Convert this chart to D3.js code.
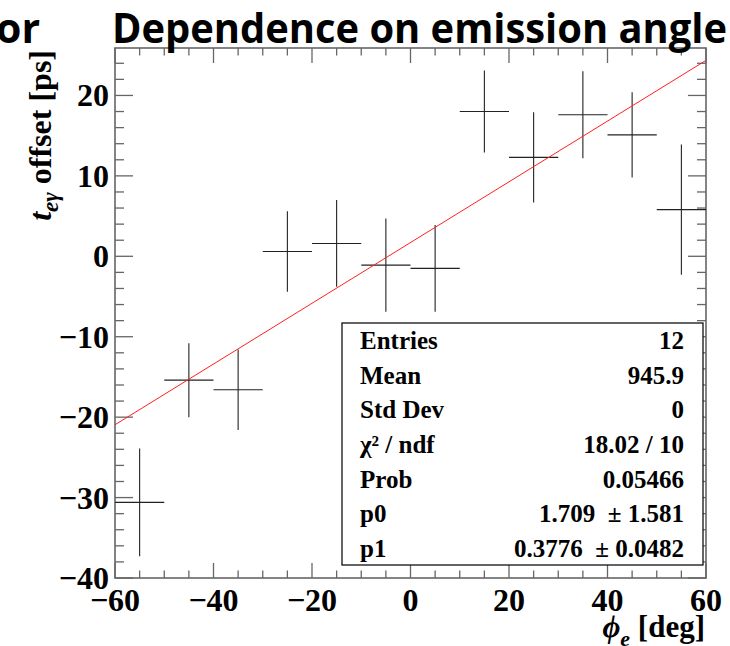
<!DOCTYPE html>
<html>
<head>
<meta charset="utf-8">
<script src="https://cdn.jsdelivr.net/npm/d3@7"></script>
<style>
  body { margin: 0; background: #fff; }
  svg text { font-family: "Liberation Serif", "Times New Roman", serif; font-weight: bold; }
</style>
</head>
<body>
<svg id="chart" width="730" height="646"></svg>
<script>
// bin centres of phi_e [deg], bin half width 5
const binCenters = [-55, -45, -35, -25, -15, -5, 5, 15, 25, 35, 45, 55];
const offsets = [-30.6, -15.4, -16.6, 0.6, 1.6, -1.1, -1.5, 18.0, 12.3, 17.6, 15.1, 5.8];
const errors = [6.7, 4.6, 5.0, 5.0, 5.4, 5.8, 5.4, 5.1, 5.6, 5.4, 5.3, 8.1];

// fit: p0 + p1 * x
const fitP0 = 1.709;
const fitP1 = 0.3776;

const xTicks = [-60, -40, -20, 0, 20, 40, 60];
const yTicks = [-40, -30, -20, -10, 0, 10, 20];

const statLabels = ["Entries", "Mean", "Std Dev", "χ² / ndf", "Prob", "p0", "p1"];
const statValues = ["12", "945.9", "0", "18.02 / 10", "0.05466", "1.709  ± 1.581", "0.3776  ± 0.0482"];

const svg = d3.select('#chart');
const pl = 115, pr = 706, pt = 48, pb = 578;

const x = d3.scaleLinear().domain([-60, 60]).range([pl, pr]);
const y = d3.scaleLinear().domain([-40, 25.9]).range([pb, pt]);

const fmt = v => v < 0 ? '\u2212' + Math.abs(v) : String(v);

// ticks, all pointing inward (ROOT style)
const tickColor = '#666';
const g = svg.append('g');

d3.range(-60, 60.01, 5).forEach(v => {
    const len = v % 20 === 0 ? 15 : 7.5;
    g.append('line').attr('x1', x(v)).attr('x2', x(v)).attr('y1', pb).attr('y2', pb - len)
        .attr('stroke', tickColor).attr('stroke-width', 1.3);
    g.append('line').attr('x1', x(v)).attr('x2', x(v)).attr('y1', pt).attr('y2', pt + len)
        .attr('stroke', tickColor).attr('stroke-width', 1.3);
});

d3.range(-40, 25.9, 2).forEach(v => {
    const len = v % 10 === 0 ? 18 : 9;
    g.append('line').attr('x1', pl).attr('x2', pl + len).attr('y1', y(v)).attr('y2', y(v))
        .attr('stroke', tickColor).attr('stroke-width', 1.3);
    g.append('line').attr('x1', pr).attr('x2', pr - len).attr('y1', y(v)).attr('y2', y(v))
        .attr('stroke', tickColor).attr('stroke-width', 1.3);
});

svg.append('rect')
    .attr('x', pl).attr('y', pt)
    .attr('width', pr - pl).attr('height', pb - pt)
    .attr('fill', 'none').attr('stroke', tickColor).attr('stroke-width', 1.6);

// tick labels
svg.selectAll('.xlab').data(xTicks).join('text')
    .attr('class', 'xlab')
    .attr('x', d => x(d)).attr('y', 611)
    .attr('text-anchor', 'middle')
    .attr('font-size', 32)
    .text(fmt);

svg.selectAll('.ylab').data(yTicks).join('text')
    .attr('class', 'ylab')
    .attr('x', 109).attr('y', d => y(d) + 11)
    .attr('text-anchor', 'end')
    .attr('font-size', 32)
    .text(fmt);

// error bars
const pts = binCenters.map((c, i) => ({ c, v: offsets[i], e: errors[i] }));
const bars = svg.append('g').attr('stroke', '#222').attr('stroke-width', 1.1);
bars.selectAll('.h').data(pts).join('line').attr('class', 'h')
    .attr('x1', d => x(d.c - 5)).attr('x2', d => x(d.c + 5))
    .attr('y1', d => y(d.v)).attr('y2', d => y(d.v));
bars.selectAll('.v').data(pts).join('line').attr('class', 'v')
    .attr('x1', d => x(d.c)).attr('x2', d => x(d.c))
    .attr('y1', d => y(d.v - d.e)).attr('y2', d => y(d.v + d.e));

// fit line
svg.append('line')
    .attr('x1', x(-60)).attr('y1', y(fitP0 + fitP1 * -60))
    .attr('x2', x(60)).attr('y2', y(fitP0 + fitP1 * 60))
    .attr('stroke', '#ff2020').attr('stroke-width', 1);

// stats box
const box = { x: 342, y: 323, w: 361, h: 242 };
svg.append('rect')
    .attr('x', box.x).attr('y', box.y).attr('width', box.w).attr('height', box.h)
    .attr('fill', '#fff').attr('stroke', '#111').attr('stroke-width', 1.3);
const rowH = box.h / statLabels.length;
svg.selectAll('.slab').data(statLabels).join('text').attr('class', 'slab')
    .attr('x', 360).attr('y', (d, i) => box.y + rowH * (i + 0.5) + 9)
    .attr('font-size', 25)
    .text(d => d);
svg.selectAll('.sval').data(statValues).join('text').attr('class', 'sval')
    .attr('x', 684).attr('y', (d, i) => box.y + rowH * (i + 0.5) + 9)
    .attr('font-size', 25)
    .attr('text-anchor', 'end')
    .style('white-space', 'pre')
    .text(d => d);

// axis titles
const yt = svg.append('text')
    .attr('transform', 'translate(51,50) rotate(-90)')
    .attr('text-anchor', 'end')
    .attr('font-size', 32);
yt.append('tspan').attr('font-style', 'italic').text('t');
yt.append('tspan').attr('font-style', 'italic').attr('font-size', 23).attr('dy', 7).text('eγ');
yt.append('tspan').attr('dy', -7).text(' offset [ps]');

const xt = svg.append('text')
    .attr('x', 705).attr('y', 637)
    .attr('text-anchor', 'end')
    .attr('font-size', 31);
xt.append('tspan').attr('font-style', 'italic').text('\u03D5');
xt.append('tspan').attr('font-style', 'italic').attr('font-size', 22).attr('dy', 9).text('e');
xt.append('tspan').attr('dy', -9).text(' [deg]');

// slide title (sans, overlapping the frame top)
svg.append('text')
    .attr('x', 112).attr('y', 43)
    .attr('font-size', 42)
    .style('font-family', '"Open Sans", sans-serif')
    .attr('textLength', 615).attr('lengthAdjust', 'spacingAndGlyphs')
    .text('Dependence on emission angle');
svg.append('text')
    .attr('x', -4).attr('y', 43)
    .attr('font-size', 42)
    .style('font-family', '"Open Sans", sans-serif')
    .attr('textLength', 44).attr('lengthAdjust', 'spacingAndGlyphs')
    .text('or');
</script>
</body>
</html>
